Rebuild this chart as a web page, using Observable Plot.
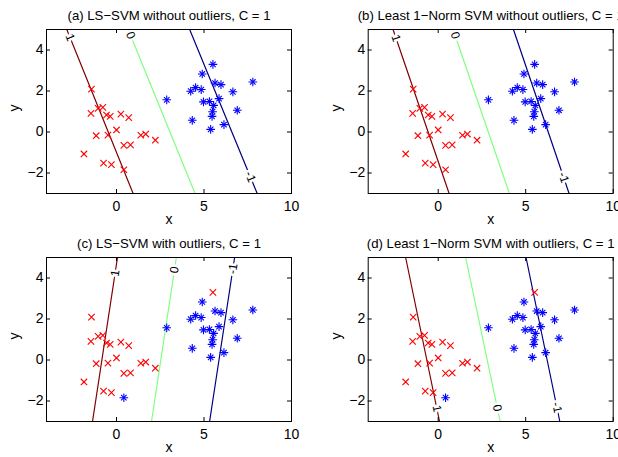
<!DOCTYPE html>
<html><head><meta charset="utf-8">
<script src="https://cdn.jsdelivr.net/npm/d3@7"></script>
<script src="https://cdn.jsdelivr.net/npm/@observablehq/plot@0.6"></script>
<style>
body{margin:0;background:#fff;}
#fig{position:relative;width:618px;height:457px;overflow:hidden;background:#fff;}
#fig svg{position:absolute;}
</style></head><body><div id="fig"></div>
<script>
// class +1 points (red x)
const redX = [-1.43,-1.46,-1.05,-0.78,-0.57,-0.36,0.25,0.70,0.00,-1.16,-0.49,1.39,1.67,2.22,0.42,0.80,-1.86,-0.74,-0.29,0.42];
const redY = [2.09,0.91,1.15,1.20,0.83,0.76,0.87,0.70,0.10,-0.18,-0.15,-0.16,-0.10,-0.40,-0.65,-0.63,-1.07,-1.52,-1.59,-1.84];
// class -1 points (blue *)
const blueX = [5.51,4.90,4.52,4.24,4.84,5.63,5.97,7.79,6.65,2.87,4.97,5.31,5.86,5.55,5.49,5.46,6.90,4.33,5.38,6.14];
const blueY = [3.30,2.83,2.17,1.99,2.07,2.39,2.31,2.44,1.96,1.57,1.47,1.49,1.63,1.30,0.99,0.76,1.06,0.57,0.13,0.36];
// indices whose labels are flipped in the "with outliers" panels
const flippedRed = 19;
const flippedBlue = 0;

const titles = [
  "(a) LS−SVM without outliers, C = 1",
  "(b) Least 1−Norm SVM without outliers, C = 1",
  "(c) LS−SVM with outliers, C = 1",
  "(d) Least 1−Norm SVM with outliers, C = 1"
];
const withOutliers = [false, false, true, true];
const levels = [1, 0, -1];
const levelText = ["1", "0", "-1"];
const levelColors = ["#800000", "#80ff80", "#000080"];
// x where each contour line meets y = 5 (top) and y = -3 (bottom)
const topX = [[-2.84,0.665,4.18],[-2.58,0.85,4.30],[0.057,3.42,6.75],[-1.86,1.57,5.02]];
const bottomX = [[0.95,4.49,8.04],[0.625,4.07,7.48],[-1.37,2.0,5.32],[0.076,3.54,6.95]];
// y of each contour label
const labelY = [[4.61,4.71,-2.18],[4.58,4.71,-2.22],[4.24,4.40,4.45],[-2.37,-2.34,-2.32]];

const xTicks = [0, 5, 10];
const yTicks = [-2, 0, 2, 4];
const xDomain = [-4, 10];
const yDomain = [-3, 5];

const fig = document.getElementById("fig");
const font = "'Liberation Sans', Arial, Helvetica, sans-serif";

for (let i = 0; i < 4; i++) {
  const W = 309, H = i < 2 ? 228 : 229;
  const ml = i % 2 ? 58.7 : 46, pw = 245, ph = 164;
  const mr = W - ml - pw, mt = 29, mb = H - mt - ph;
  const reds = [], blues = [];
  redX.forEach((x, j) => ((withOutliers[i] && j === flippedRed) ? blues : reds).push({x, y: redY[j]}));
  blueX.forEach((x, j) => ((withOutliers[i] && j === flippedBlue) ? reds : blues).push({x, y: blueY[j]}));
  const lineMarks = levels.map((lv, k) => Plot.line(
    [{x: topX[i][k], y: yDomain[1]}, {x: bottomX[i][k], y: yDomain[0]}],
    {x: "x", y: "y", stroke: levelColors[k], strokeWidth: 1.2}));
  const sx = pw / (xDomain[1] - xDomain[0]);
  const sy = ph / (yDomain[1] - yDomain[0]);
  const labels = levels.map((lv, k) => {
    const t = (yDomain[1] - labelY[i][k]) / (yDomain[1] - yDomain[0]);
    const x = topX[i][k] + t * (bottomX[i][k] - topX[i][k]);
    let ang = Math.atan2((yDomain[1] - yDomain[0]) * sy, (bottomX[i][k] - topX[i][k]) * sx) * 180 / Math.PI;
    if (ang > 90) ang -= 180;
    return {x, y: labelY[i][k], text: levelText[k], ang};
  });
  const svg = Plot.plot({
    width: W, height: H,
    marginLeft: ml, marginRight: mr, marginTop: mt, marginBottom: mb,
    style: {fontFamily: font, background: "white", overflow: "hidden"},
    x: {domain: xDomain},
    y: {domain: yDomain},
    marks: [
      ...lineMarks,
      Plot.text(labels, {x: "x", y: "y", text: "text", rotate: "ang", fontSize: 12, fill: "black", stroke: "white", strokeWidth: 5}),
      Plot.dot(reds, {x: "x", y: "y", symbol: "times", r: 3, stroke: "#ff0000", strokeWidth: 1.1}),
      Plot.dot(blues, {x: "x", y: "y", symbol: "plus", r: 2.9, stroke: "#0000ff", strokeWidth: 1.1}),
      Plot.dot(blues, {x: "x", y: "y", symbol: "times", r: 2.6, stroke: "#0000ff", strokeWidth: 1.1}),
      Plot.tickX(xTicks, {x: d => d, insetTop: ph - 4, stroke: "black"}),
      Plot.tickX(xTicks, {x: d => d, insetBottom: ph - 4, stroke: "black"}),
      Plot.tickY(yTicks, {y: d => d, insetRight: pw - 4, stroke: "black"}),
      Plot.tickY(yTicks, {y: d => d, insetLeft: pw - 4, stroke: "black"}),
      Plot.frame({stroke: "black"}),
      Plot.axisX({ticks: xTicks, tickSize: 0, tickPadding: 8, fontSize: 14, label: null, fill: "black"}),
      Plot.axisY({ticks: yTicks, tickSize: 0, tickPadding: 3, fontSize: 14, label: null, fill: "black"}),
      Plot.text([titles[i]], {text: d => d, frameAnchor: "top", dy: -13.5, fontSize: 13.2, fill: "black", lineAnchor: "middle"}),
      Plot.text(["x"], {text: d => d, frameAnchor: "bottom", dy: 26.4, fontSize: 14, fill: "black", lineAnchor: "middle"}),
      Plot.text(["y"], {text: d => d, frameAnchor: "left", dx: -32, rotate: -90, fontSize: 14, fill: "black", lineAnchor: "middle"})
    ]
  });
  svg.style.left = (i % 2 ? 309 : 0) + "px";
  svg.style.top = (i < 2 ? 0 : 228) + "px";
  fig.appendChild(svg);
}
</script></body></html>
